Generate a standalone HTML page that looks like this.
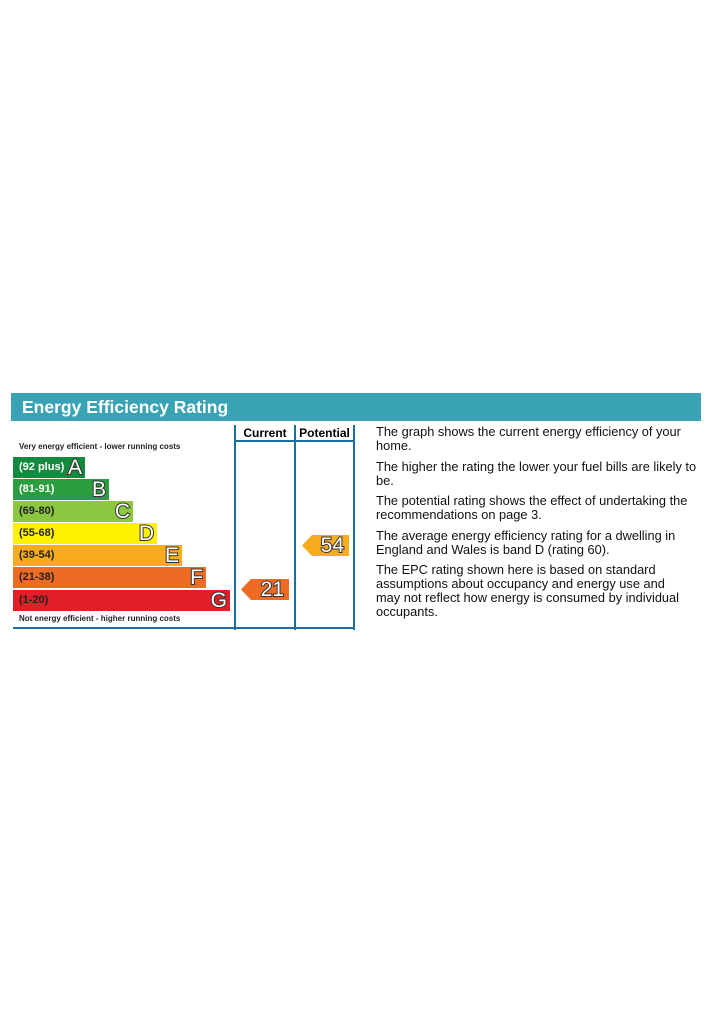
<!DOCTYPE html>
<html><head><style>
body{margin:0;width:715px;height:1033px;background:#fff;position:relative;font-family:"Liberation Sans",Arial,sans-serif;overflow:hidden}
.a{position:absolute}
.hdr{left:11px;top:393px;width:690px;height:28px;background:#39a3b5;color:#fff;font-weight:bold;font-size:17.5px;line-height:28px;padding-left:11px;box-sizing:border-box}
.bar{position:absolute;left:13px;height:21px;color:#fff;font-weight:bold;font-size:11px;line-height:21px;padding-left:6px;box-sizing:border-box}
.bar span{position:absolute;right:3px;top:-1px;font-size:21px;font-weight:normal;color:#fff;-webkit-text-stroke:2px #333;paint-order:stroke fill;line-height:23px}
.vl{position:absolute;width:2px;background:#1c6e9c}
.arr{position:absolute;height:21px;color:#fff;font-size:21px;line-height:22px;text-align:right;padding-right:5px;box-sizing:border-box;-webkit-text-stroke:2px #333;paint-order:stroke fill;clip-path:polygon(0 50%,10px 0,100% 0,100% 100%,10px 100%)}
.txt{left:376px;width:340px;font-size:12.8px;line-height:14px;color:#111;white-space:nowrap}
.txt p{margin:0 0 6.5px 0}
</style></head><body>
<div class="a hdr">Energy Efficiency Rating</div>
<div class="a" style="left:19px;top:442px;font-size:8px;font-weight:bold;color:#222">Very energy efficient - lower running costs</div>
<div class="a" style="left:19px;top:614px;font-size:8px;font-weight:bold;color:#222">Not energy efficient - higher running costs</div>
<div class="bar" style="top:457px;width:72px;background:#138a3d">(92 plus)<span>A</span></div>
<div class="bar" style="top:479px;width:96px;background:#2a9d3f">(81-91)<span>B</span></div>
<div class="bar" style="top:501px;width:120px;background:#8dc63f;color:#222">(69-80)<span>C</span></div>
<div class="bar" style="top:523px;width:144px;background:#fff200;color:#222">(55-68)<span>D</span></div>
<div class="bar" style="top:545px;width:169px;background:#f6ac1c;color:#222">(39-54)<span>E</span></div>
<div class="bar" style="top:567px;width:193px;background:#ef6b24;color:#222">(21-38)<span>F</span></div>
<div class="bar" style="top:590px;width:217px;background:#e41e26;color:#222">(1-20)<span>G</span></div>
<div class="vl" style="left:234px;top:425px;height:205px"></div>
<div class="vl" style="left:294px;top:425px;height:205px"></div>
<div class="vl" style="left:353px;top:425px;height:205px"></div>
<div class="a" style="left:234px;top:440px;width:121px;height:2px;background:#1c6e9c"></div>
<div class="a" style="left:13px;top:627px;width:342px;height:2px;background:#1c6e9c"></div>
<div class="a" style="left:236px;top:426px;width:58px;text-align:center;font-size:12px;font-weight:bold">Current</div>
<div class="a" style="left:296px;top:426px;width:57px;text-align:center;font-size:12px;font-weight:bold">Potential</div>
<div class="arr" style="left:241px;top:579px;width:48px;background:#ef6b24">21</div>
<div class="arr" style="left:302px;top:535px;width:47px;background:#f6ac1c">54</div>
<div class="a txt" style="top:425px">
<p>The graph shows the current energy efficiency of your<br>home.</p>
<p>The higher the rating the lower your fuel bills are likely to<br>be.</p>
<p>The potential rating shows the effect of undertaking the<br>recommendations on page 3.</p>
<p>The average energy efficiency rating for a dwelling in<br>England and Wales is band D (rating 60).</p>
<p>The EPC rating shown here is based on standard<br>assumptions about occupancy and energy use and<br>may not reflect how energy is consumed by individual<br>occupants.</p>
</div>
</body></html>
